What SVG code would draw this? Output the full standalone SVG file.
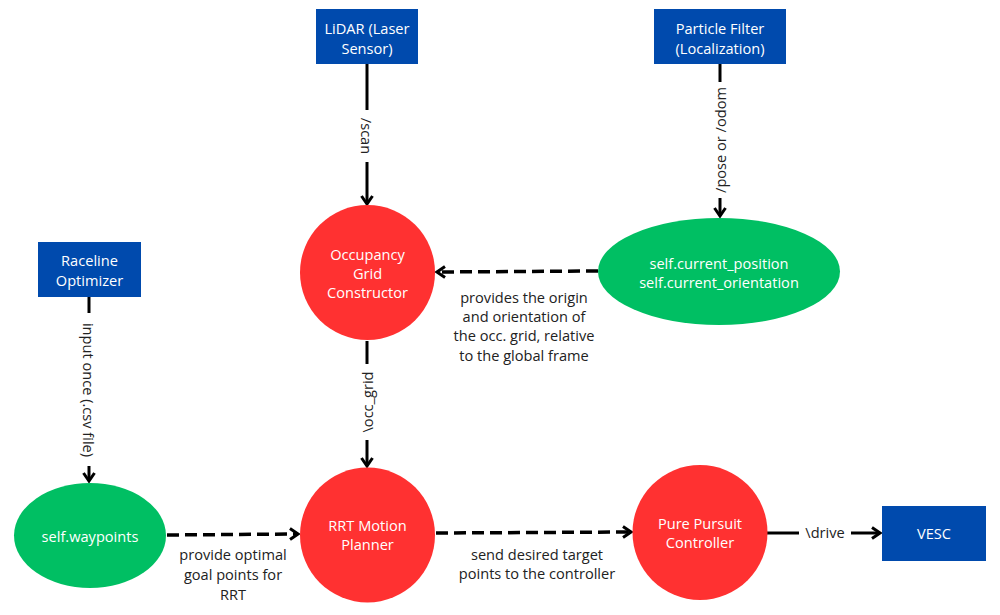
<svg xmlns="http://www.w3.org/2000/svg" width="1000" height="615" viewBox="0 0 1000 615">
<style>
.box{fill:#004AAD}
.red{fill:#FF3131}
.green{fill:#00BF63}
.nt{font-family:"Open Sans","Noto Sans",sans-serif;font-size:14.6px;fill:#ffffff;text-anchor:middle;dominant-baseline:central}
.lt{font-family:"Open Sans","Noto Sans",sans-serif;font-size:14.6px;fill:#222222;text-anchor:middle;dominant-baseline:central}
.ln{stroke:#000;stroke-width:3;fill:none}
.dl{stroke:#000;stroke-width:3.5;fill:none;stroke-dasharray:12 6}
</style>
<defs>
<marker id="ah" viewBox="0 0 12 14" refX="10" refY="7" markerWidth="12" markerHeight="14" markerUnits="userSpaceOnUse" orient="auto">
<path d="M2,1.5 L10,7 L2,12.5" fill="none" stroke="#000" stroke-width="3"/>
</marker>
</defs>
<rect width="1000" height="615" fill="#ffffff"/>
<g id="connectors">
<line class="ln" x1="367" y1="64" x2="367" y2="110"/>
<line class="ln" x1="367" y1="162" x2="367" y2="204" marker-end="url(#ah)"/>
<text class="lt" transform="translate(367,136) rotate(90)">/scan</text>
<line class="ln" x1="720" y1="64" x2="720" y2="82"/>
<line class="ln" x1="720" y1="198" x2="720" y2="216" marker-end="url(#ah)"/>
<text class="lt" transform="translate(720,140) rotate(-90)">/pose or /odom</text>
<line class="ln" x1="89" y1="297" x2="89" y2="313"/>
<line class="ln" x1="89" y1="466" x2="89" y2="481" marker-end="url(#ah)"/>
<text class="lt" transform="translate(89,390) rotate(90)">input once (.csv file)</text>
<line class="ln" x1="367" y1="341" x2="367" y2="364"/>
<line class="ln" x1="367" y1="440" x2="367" y2="466" marker-end="url(#ah)"/>
<text class="lt" transform="translate(367,402) rotate(-90)">\occ_grid</text>
<line class="dl" x1="598" y1="271" x2="437" y2="272" marker-end="url(#ah)"/>
<text class="lt" x="524" y="297">provides the origin</text>
<text class="lt" x="524" y="316">and orientation of</text>
<text class="lt" x="524" y="335">the occ. grid, relative</text>
<text class="lt" x="524" y="355">to the global frame</text>
<line class="dl" x1="167" y1="535" x2="298" y2="534" marker-end="url(#ah)"/>
<text class="lt" x="233" y="554">provide optimal</text>
<text class="lt" x="233" y="574">goal points for</text>
<text class="lt" x="233" y="594">RRT</text>
<line class="dl" x1="436" y1="533" x2="631" y2="532" marker-end="url(#ah)"/>
<text class="lt" x="537" y="554">send desired target</text>
<text class="lt" x="537" y="573">points to the controller</text>
<line class="ln" x1="767" y1="533" x2="799" y2="533"/>
<line class="ln" x1="851" y1="533" x2="880" y2="533" marker-end="url(#ah)"/>
<text class="lt" x="825" y="532">\drive</text>
</g>
<g id="lidar">
<rect class="box" x="316" y="9" width="102" height="55"/>
<text class="nt" x="367" y="28">LiDAR (Laser</text>
<text class="nt" x="367" y="48">Sensor)</text>
</g>
<g id="particle-filter">
<rect class="box" x="654" y="9" width="132" height="55"/>
<text class="nt" x="720" y="28">Particle Filter</text>
<text class="nt" x="720" y="48">(Localization)</text>
</g>
<g id="raceline">
<rect class="box" x="38" y="242" width="103" height="55"/>
<text class="nt" x="89.5" y="260">Raceline</text>
<text class="nt" x="89.5" y="280">Optimizer</text>
</g>
<g id="vesc">
<rect class="box" x="882" y="506" width="104" height="55"/>
<text class="nt" x="934" y="533">VESC</text>
</g>
<g id="occupancy">
<circle class="red" cx="367.5" cy="272.5" r="67.5"/>
<text class="nt" x="367.5" y="254">Occupancy</text>
<text class="nt" x="367.5" y="273">Grid</text>
<text class="nt" x="367.5" y="292">Constructor</text>
</g>
<g id="rrt">
<circle class="red" cx="367.5" cy="535" r="67.5"/>
<text class="nt" x="367.5" y="525">RRT Motion</text>
<text class="nt" x="367.5" y="544">Planner</text>
</g>
<g id="pure-pursuit">
<circle class="red" cx="700" cy="532.5" r="67.5"/>
<text class="nt" x="700" y="523">Pure Pursuit</text>
<text class="nt" x="700" y="542">Controller</text>
</g>
<g id="current-pose">
<ellipse class="green" cx="719" cy="271.5" rx="121" ry="53.5"/>
<text class="nt" x="719" y="263">self.current_position</text>
<text class="nt" x="719" y="282">self.current_orientation</text>
</g>
<g id="waypoints">
<ellipse class="green" cx="90" cy="535.5" rx="76" ry="52.5"/>
<text class="nt" x="90" y="536">self.waypoints</text>
</g>
</svg>
